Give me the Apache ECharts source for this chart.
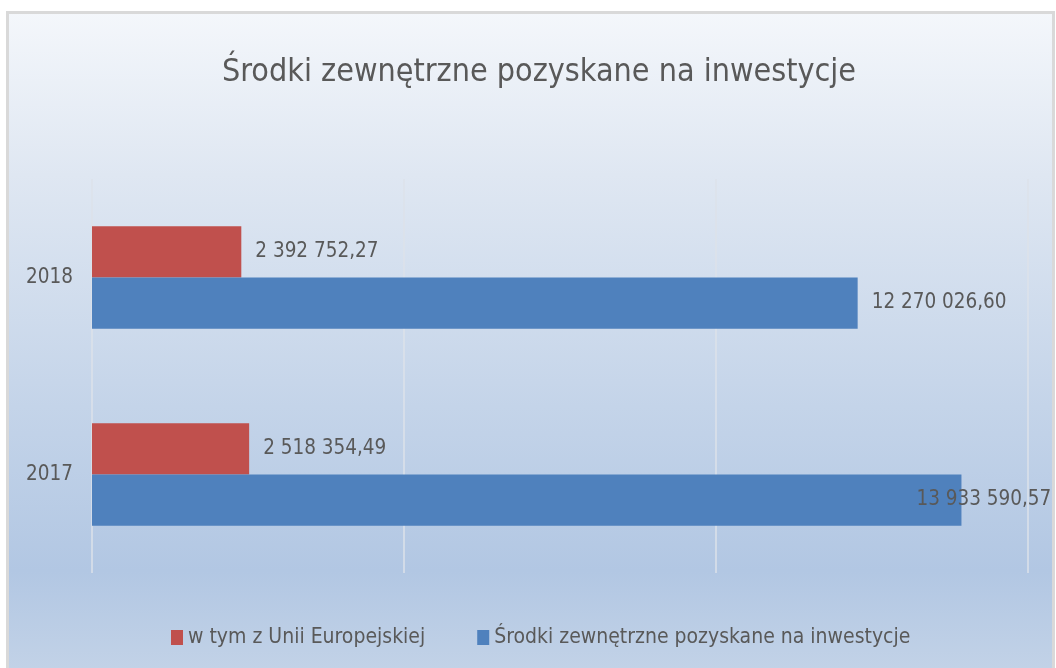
<!DOCTYPE html>
<html>
<head>
<meta charset="utf-8">
<script src="https://cdn.jsdelivr.net/npm/echarts@6/dist/echarts.min.js"></script>
<style>
  html, body { margin: 0; padding: 0; background: #fff; }
  #chart { width: 1056px; height: 668px; }
</style>
</head>
<body>
<div id="chart"></div>
<script>
// dane
var years = ['2017', '2018'];
var euValues = [2518354.49, 2392752.27];       // w tym z Unii Europejskiej
var totalValues = [13933590.57, 12270026.60];  // Środki zewnętrzne pozyskane na inwestycje
var seriesNames = ['w tym z Unii Europejskiej', 'Środki zewnętrzne pozyskane na inwestycje'];
var titleText = 'Środki zewnętrzne pozyskane na inwestycje';

var FONT = '"DejaVu Sans Condensed", "Liberation Sans", sans-serif';
var TXT = '#595959';

// 2 392 752,27
function fmt(v) {
  var p = v.toFixed(2).split('.');
  return p[0].replace(/\B(?=(\d{3})+(?!\d))/g, ' ') + ',' + p[1];
}

var chart = echarts.init(document.getElementById('chart'));

chart.setOption({
  animation: false,
  graphic: [{
    type: 'rect',
    z: -10,
    silent: true,
    shape: { x: 7.5, y: 12.5, width: 1046, height: 680 },
    style: {
      fill: new echarts.graphic.LinearGradient(0, 0, 0, 1, [
        { offset: 0, color: '#f4f7fb' },
        { offset: 0.24, color: '#dfe7f2' },
        { offset: 0.58, color: '#c4d4e9' },
        { offset: 0.82, color: '#b2c7e3' },
        { offset: 1, color: '#c6d5e8' }
      ]),
      stroke: '#d9d9d9',
      lineWidth: 3
    }
  }],
  title: {
    text: titleText,
    left: 534,
    textAlign: 'center',
    top: 52,
    textStyle: { fontFamily: FONT, fontSize: 32, fontWeight: 'normal', color: TXT }
  },
  legend: {
    data: seriesNames,
    left: 166,
    top: 622,
    itemWidth: 12,
    itemHeight: 15,
    itemGap: 52,
    icon: 'rect',
    textStyle: { fontFamily: FONT, fontSize: 21, color: TXT }
  },
  grid: { left: 92, right: 28, top: 179, bottom: 95, containLabel: false },
  xAxis: {
    type: 'value',
    min: 0,
    max: 15000000,
    interval: 5000000,
    axisLabel: { show: false },
    axisLine: { show: false },
    axisTick: { show: false },
    splitLine: { lineStyle: { color: '#dde2ea', width: 1.5 } }
  },
  yAxis: {
    type: 'category',
    data: years,
    axisLine: { show: false },
    axisTick: { show: false },
    axisLabel: { fontFamily: FONT, fontSize: 20.5, color: TXT, margin: 19 }
  },
  series: [
    {
      name: seriesNames[0],
      type: 'bar',
      data: euValues,
      barGap: '0%',
      barCategoryGap: '48%',
      itemStyle: { color: '#c0504d' },
      label: {
        show: true, position: 'right', distance: 14,
        fontFamily: FONT, fontSize: 20.5, color: TXT,
        formatter: function (p) { return fmt(p.value); }
      }
    },
    {
      name: seriesNames[1],
      type: 'bar',
      // etykieta 2017 nie mieści się – przesunięta w lewo jak w Excelu
      data: totalValues.map(function (v, i) {
        return i === 0 ? { value: v, label: { offset: [-59, 0] } } : v;
      }),
      barGap: '0%',
      barCategoryGap: '48%',
      itemStyle: { color: '#4f81bd' },
      label: {
        show: true, position: 'right', distance: 14,
        fontFamily: FONT, fontSize: 20.5, color: TXT,
        formatter: function (p) { return fmt(p.value); }
      }
    }
  ]
});
</script>
</body>
</html>
